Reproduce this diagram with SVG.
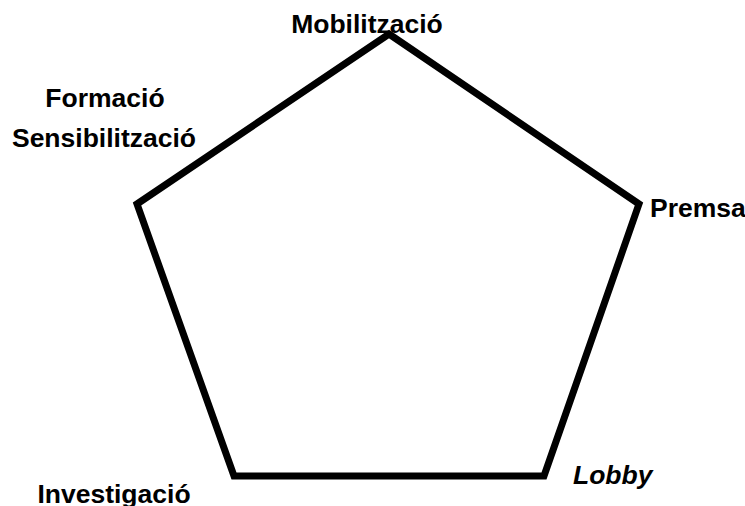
<svg xmlns="http://www.w3.org/2000/svg" width="745" height="506" viewBox="0 0 745 506">
<style>
.lbl{font-family:"Liberation Sans",Arial,sans-serif;font-weight:bold;font-size:26.5px;fill:#000}
.shape{fill:none;stroke:#000;stroke-width:7;stroke-linejoin:miter}
</style>
<rect width="745" height="506" fill="#fff"/>
<g id="pentagon">
<polygon class="shape" points="389,34 639,204 544,476 234,476 137,204"/>
</g>
<g id="mobilitzacio"><text class="lbl" x="367" y="33" text-anchor="middle">Mobilització</text></g>
<g id="formacio"><text class="lbl" x="105" y="107" text-anchor="middle">Formació</text><text class="lbl" x="104" y="147" text-anchor="middle">Sensibilització</text></g>
<g id="premsa"><text class="lbl" x="650" y="217">Premsa</text></g>
<g id="lobby"><text class="lbl" x="573" y="484" font-style="italic">Lobby</text></g>
<g id="investigacio"><text class="lbl" x="114" y="503" text-anchor="middle">Investigació</text></g>
</svg>
